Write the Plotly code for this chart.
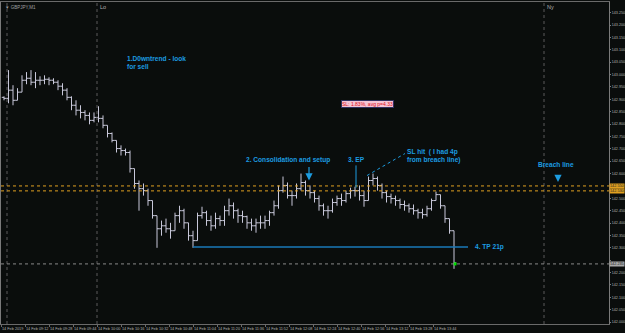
import plotly.graph_objects as go
import pandas as pd

# ---------------- data ----------------
bar_start = "2019-02-14 08:58"
bar_step = "3min"
highs = [142.912,143.018,142.957,142.945,142.997,143.010,143.018,143.010,142.993,142.997,
         142.989,142.985,142.977,142.965,142.945,142.912,142.896,142.876,142.856,142.847,
         142.847,142.872,142.835,142.795,142.766,142.734,142.714,142.701,142.693,142.620,
         142.572,142.560,142.539,142.491,142.430,142.410,142.418,142.401,142.442,142.470,
         142.458,142.401,142.369,142.442,142.466,142.450,142.430,142.442,142.430,142.470,
         142.499,142.483,142.458,142.450,142.430,142.418,142.418,142.430,142.430,142.450,
         142.491,142.552,142.588,142.564,142.531,142.560,142.600,142.572,142.552,142.531,
         142.511,142.479,142.470,142.499,142.511,142.519,142.531,142.543,142.547,142.552,
         142.531,142.588,142.600,142.588,142.560,142.531,142.519,142.511,142.499,142.491,
         142.479,142.475,142.458,142.458,142.470,142.499,142.527,142.515,142.470,142.418,
         142.369]
lows = [142.896,142.884,142.876,142.896,142.929,142.961,142.957,142.945,142.957,142.961,
        142.957,142.961,142.937,142.916,142.896,142.856,142.835,142.823,142.815,142.799,
        142.807,142.807,142.783,142.746,142.726,142.685,142.673,142.673,142.604,142.539,
        142.450,142.511,142.470,142.418,142.300,142.349,142.361,142.337,142.369,142.401,
        142.377,142.329,142.300,142.329,142.418,142.389,142.369,142.377,142.389,142.389,
        142.430,142.418,142.401,142.401,142.377,142.369,142.361,142.377,142.377,142.389,
        142.430,142.458,142.523,142.499,142.470,142.499,142.531,142.511,142.499,142.483,
        142.450,142.430,142.418,142.442,142.470,142.470,142.483,142.499,142.507,142.491,
        142.466,142.491,142.552,142.531,142.499,142.483,142.479,142.470,142.458,142.450,
        142.442,142.434,142.418,142.418,142.426,142.450,142.491,142.458,142.401,142.357,
        142.215]
closes = [142.904,142.937,142.896,142.929,142.977,142.985,142.969,142.977,142.977,142.981,
          142.977,142.969,142.953,142.937,142.908,142.876,142.856,142.847,142.835,142.815,
          142.827,142.823,142.795,142.762,142.734,142.701,142.693,142.685,142.620,142.560,
          142.539,142.531,142.491,142.430,142.377,142.389,142.377,142.369,142.430,142.450,
          142.401,142.349,142.329,142.430,142.442,142.410,142.389,142.418,142.410,142.450,
          142.470,142.450,142.430,142.426,142.401,142.389,142.401,142.401,142.410,142.442,
          142.470,142.531,142.552,142.511,142.511,142.539,142.564,142.531,142.523,142.499,
          142.470,142.450,142.450,142.483,142.499,142.491,142.519,142.531,142.531,142.511,
          142.491,142.572,142.580,142.552,142.523,142.507,142.499,142.491,142.475,142.470,
          142.458,142.450,142.442,142.434,142.458,142.491,142.515,142.470,142.418,142.369,
          142.239]
first_open = 142.908

price_ticks = [142.000,142.050,142.100,142.150,142.200,142.250,142.300,142.350,142.400,
               142.450,142.500,142.550,142.600,142.650,142.700,142.750,142.800,142.850,
               142.900,142.950,143.000,143.050,143.100,143.150,143.200,143.250]
hidden_price_ticks = [142.250, 142.550]   # covered by the price boxes
time_ticks = ["08:56","09:12","09:28","09:44","10:00","10:16","10:32","10:48","11:04",
              "11:20","11:36","11:52","12:08","12:24","12:40","12:56","13:12","13:28","13:44"]
time_tick_labels = ["14 Feb 2019"] + ["14 Feb " + t for t in time_ticks[1:]]

session_times = ["09:00", "10:00", "14:58"]
session_labels = ["", "Lo", "Ny"]

breach_levels = [142.550, 142.530]
bid_price = 142.235
tp_level = 142.303
tp_from, tp_to = "11:04", "14:07:20"

notes = [  # text, time, price
    ("1.D0wntrend - look", "10:18:40", 143.066),
    ("for sell", "10:18:40", 143.034),
    ("2. Consolidation and setup", "11:38", 142.653),
    ("3. EP", "12:46", 142.657),
    ("SL hit  ( I had 4p", "13:25:20", 142.689),
    ("from breach line)", "13:25:20", 142.653),
    ("Breach line", "14:52:40", 142.637),
    ("4. TP 21p", "14:10:40", 142.304),
]

# ---------------- figure ----------------
day = "2019-02-14 "
times = pd.date_range(bar_start, periods=len(closes), freq=bar_step)
opens = [first_open] + closes[:-1]

BG = "#0a0d0c"
BLUE = "#1c9ce0"
ORANGE = "#e0a020"

fig = go.Figure()
fig.add_trace(go.Ohlc(
    x=times, open=opens, high=highs, low=lows, close=closes,
    increasing=dict(line=dict(color="#c8c8da", width=1)),
    decreasing=dict(line=dict(color="#c8c8da", width=1)),
    tickwidth=0.5, hoverinfo="skip", showlegend=False))

# green marker at last price
fig.add_trace(go.Scatter(x=[pd.Timestamp(day + "13:58:40")], y=[bid_price], mode="markers",
                         marker=dict(color="#00e000", size=3, symbol="square"),
                         showlegend=False, hoverinfo="skip"))

shapes = []
for t in session_times:
    shapes.append(dict(type="line", xref="x", yref="paper", x0=day + t, x1=day + t, y0=0, y1=1,
                       line=dict(color="#5a5a5a", width=1, dash="dot")))
for lv in breach_levels:
    shapes.append(dict(type="line", xref="paper", yref="y", x0=0, x1=1, y0=lv, y1=lv,
                       line=dict(color=ORANGE, width=1, dash="dot")))
shapes.append(dict(type="line", xref="paper", yref="y", x0=0, x1=1, y0=bid_price, y1=bid_price,
                   line=dict(color="#8a8a8a", width=1, dash="dot")))
shapes.append(dict(type="line", xref="x", yref="y", x0=day + tp_from, x1=day + tp_to,
                   y0=tp_level, y1=tp_level, line=dict(color="#1a78b8", width=1.5)))
# EP vertical marker
shapes.append(dict(type="line", xref="x", yref="y", x0=day + "12:52:40", x1=day + "12:52:40",
                   y0=142.633, y1=142.543, line=dict(color=BLUE, width=1)))
# SL pointer
shapes.append(dict(type="line", xref="x", yref="y", x0=day + "13:00", x1=day + "13:25:20",
                   y0=142.592, y1=142.681, line=dict(color=BLUE, width=1, dash="dot")))
fig.update_layout(shapes=shapes)

ann = []
for txt, t, p in notes:
    ann.append(dict(x=day + t, y=p, xref="x", yref="y", text="<b>" + txt + "</b>", showarrow=False,
                    xanchor="left", yanchor="middle",
                    font=dict(family="Liberation Sans", size=6.6, color=BLUE)))
# arrows
ann.append(dict(x=day + "12:21:20", y=142.572, ax=day + "12:21:20", ay=142.633, xref="x", yref="y",
                axref="x", ayref="y", showarrow=True, arrowhead=2, arrowsize=1.2, arrowwidth=1.2,
                arrowcolor=BLUE, text=""))
ann.append(dict(x=day + "15:07:20", y=142.566, ax=day + "15:07:20", ay=142.596, xref="x", yref="y",
                axref="x", ayref="y", showarrow=True, arrowhead=2, arrowsize=1.2, arrowwidth=1.2,
                arrowcolor=BLUE, text=""))
# info box
ann.append(dict(x=day + "13:00", y=142.880, xref="x", yref="y", text="SL: 1.83%, avg p=4.33",
                showarrow=False, bgcolor="#f4c4d4", bordercolor="#303060", borderwidth=1, borderpad=0,
                font=dict(family="Liberation Sans", size=5, color="#e01020")))
# session labels
for t, lab in zip(session_times, session_labels):
    if lab:
        ann.append(dict(x=day + t, y=1, xref="x", yref="paper", text=lab, showarrow=False,
                        xanchor="left", yanchor="top", xshift=1,
                        font=dict(family="Liberation Sans", size=5.5, color="#b0b0b0")))
# symbol label
ann.append(dict(x=0, y=1, xref="paper", yref="paper", text="▼ GBPJPY,M1", showarrow=False,
                xanchor="left", yanchor="top", xshift=2, yshift=-1,
                font=dict(family="Liberation Sans", size=4.5, color="#a0a0a0")))
# price boxes on axis
for lv, col, tc in [(breach_levels[0], ORANGE, "#202020"), (breach_levels[1], ORANGE, "#202020"),
                    (bid_price, "#a8a8a8", "#202020")]:
    ann.append(dict(x=1, y=lv, xref="paper", yref="y", text=f"{lv:.3f}", showarrow=False,
                    xanchor="left", yanchor="middle", xshift=0, bgcolor=col, borderpad=0,
                    font=dict(family="Liberation Sans", size=3.8, color=tc)))
fig.update_layout(annotations=ann)

fig.update_layout(
    width=625, height=333,
    margin=dict(l=1, r=16, t=2, b=9, autoexpand=False),
    paper_bgcolor=BG, plot_bgcolor=BG,
    xaxis=dict(
        type="date",
        range=[day + "08:56", day + "15:41:20"],
        rangeslider=dict(visible=False),
        showgrid=False, zeroline=False, automargin=False,
        showline=True, linecolor="#6a6a6a", linewidth=1, mirror=True,
        tickvals=[day + t for t in time_ticks], ticktext=time_tick_labels,
        ticklabelposition="outside right", tickangle=0,
        ticks="outside", ticklen=2, tickcolor="#6a6a6a",
        tickfont=dict(family="Liberation Sans", size=3.8, color="#b0b0b0"),
    ),
    yaxis=dict(
        side="right",
        range=[141.9922, 143.2932],
        showgrid=False, zeroline=False, automargin=False,
        showline=True, linecolor="#7a7a7a", linewidth=1, mirror=True,
        tickvals=price_ticks,
        ticktext=["" if v in hidden_price_ticks else f"{v:.3f}" for v in price_ticks],
        ticks="outside", ticklen=1, tickcolor="#7a7a7a",
        tickfont=dict(family="Liberation Sans", size=3.7, color="#b0b0b0"),
    ),
)

fig.write_html("out.html")
